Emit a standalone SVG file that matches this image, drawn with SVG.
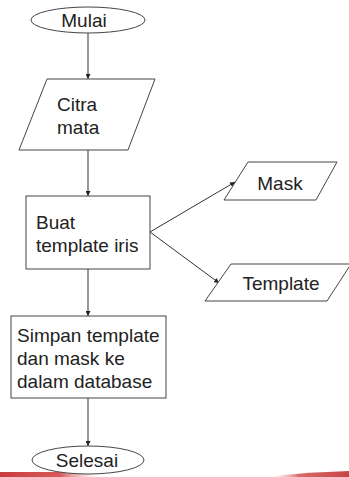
<svg xmlns="http://www.w3.org/2000/svg" width="349" height="477" viewBox="0 0 349 477">
  <style>
    .shape { fill: #ffffff; stroke: #454545; stroke-width: 1; }
    .label { font-family: "Liberation Sans", Arial, sans-serif; font-size: 19px; fill: #222222; }
    .mid { text-anchor: middle; }
    .flow { fill: none; stroke: #333333; stroke-width: 1; marker-end: url(#arrow); }
  </style>
  <defs>
    <marker id="arrow" viewBox="0 0 10 10" refX="10" refY="5" markerWidth="5" markerHeight="5" markerUnits="userSpaceOnUse" orient="auto">
      <path d="M0,0 L10,5 L0,10 Z" fill="#222222"/>
    </marker>
    <linearGradient id="bandLeft" x1="0" y1="0" x2="1" y2="0">
      <stop offset="0" stop-color="#c93c3c"/>
      <stop offset="0.6" stop-color="#d75a5a"/>
      <stop offset="1" stop-color="#f3c4c4" stop-opacity="0"/>
    </linearGradient>
    <linearGradient id="bandRight" x1="0" y1="0" x2="1" y2="0">
      <stop offset="0" stop-color="#f0b8b8" stop-opacity="0"/>
      <stop offset="0.35" stop-color="#d66a6a"/>
      <stop offset="1" stop-color="#c84545"/>
    </linearGradient>
  </defs>

  <!-- decorative bottom band -->
  <path d="M0,472 L100,472 L100,477 L0,477 Z" fill="url(#bandLeft)"/>
  <path d="M272,476 Q310,472 349,471 L349,477 L272,477 Z" fill="url(#bandRight)"/>

  <!-- connectors -->
  <g id="connectors">
    <line class="flow" x1="88" y1="33" x2="88" y2="79"/>
    <line class="flow" x1="88" y1="150" x2="88" y2="196"/>
    <line class="flow" x1="88" y1="269" x2="88" y2="316"/>
    <line class="flow" x1="88" y1="398" x2="88" y2="446"/>
    <line class="flow" x1="150" y1="232" x2="235" y2="182"/>
    <line class="flow" x1="150" y1="232" x2="219" y2="283"/>
  </g>

  <g id="mulai">
    <ellipse class="shape" cx="88" cy="20" rx="57" ry="13"/>
    <text class="label mid" x="84" y="27">Mulai</text>
  </g>

  <g id="citra-mata">
    <polygon class="shape" points="47,79 155,79 128,150 19,150"/>
    <text class="label" x="57" y="111">Citra</text>
    <text class="label" x="57" y="134">mata</text>
  </g>

  <g id="buat-template">
    <rect class="shape" x="26" y="196" width="124" height="73"/>
    <text class="label" x="36" y="229">Buat</text>
    <text class="label" x="36" y="252">template iris</text>
  </g>

  <g id="mask">
    <polygon class="shape" points="248,162 337,162 316,200 224,200"/>
    <text class="label mid" x="280" y="190">Mask</text>
  </g>

  <g id="template">
    <polygon class="shape" points="231,264 351,264 327,301 205,301"/>
    <text class="label mid" x="281" y="290">Template</text>
  </g>

  <g id="simpan">
    <rect class="shape" x="11" y="316" width="155" height="82"/>
    <text class="label" x="17" y="342">Simpan template</text>
    <text class="label" x="17" y="365">dan mask ke</text>
    <text class="label" x="17" y="388">dalam database</text>
  </g>

  <g id="selesai">
    <ellipse class="shape" cx="88" cy="460" rx="56" ry="14"/>
    <text class="label mid" x="87" y="467">Selesai</text>
  </g>
</svg>
